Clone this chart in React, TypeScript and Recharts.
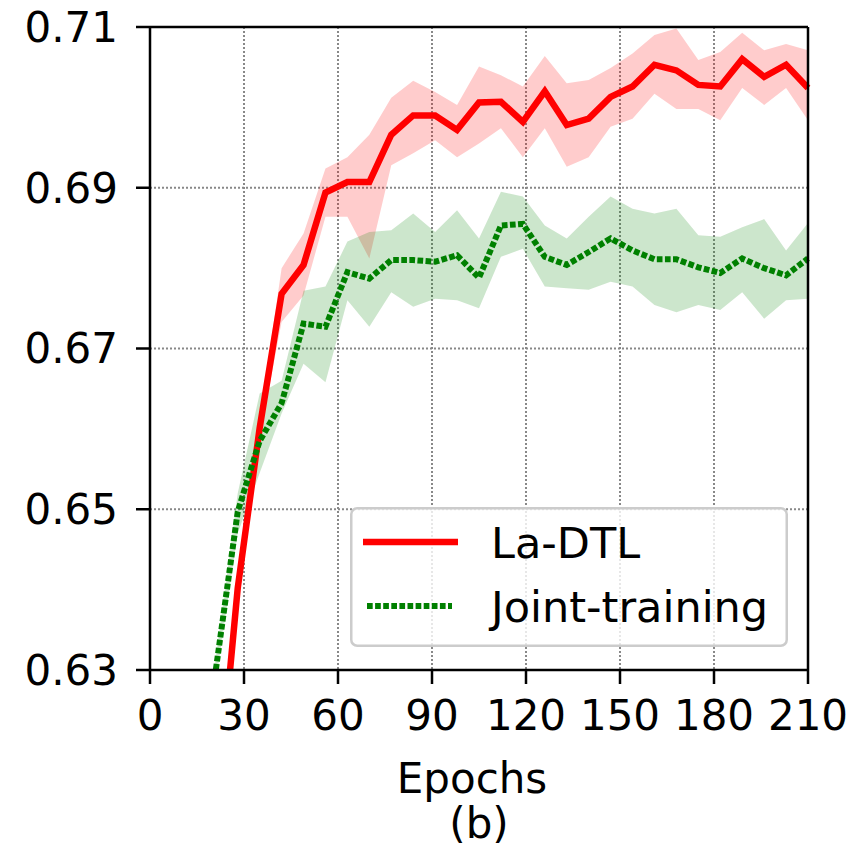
import React from 'react';
import {
  ComposedChart,
  Area,
  Line,
  XAxis,
  YAxis,
  CartesianGrid,
  ReferenceLine,
  Legend,
} from 'recharts';

const FONT = "'DejaVu Sans', sans-serif";

// epochs sampled every 7
const epochs = [
  0, 7, 14, 21, 28, 35, 42, 49, 56, 63, 70, 77, 84, 91, 98, 105,
  112, 119, 126, 133, 140, 147, 154, 161, 168, 175, 182, 189, 196, 203, 210,
];

// La-DTL mean and band
const laDtl = [
  0.55, 0.575, 0.595, 0.611, 0.6402, 0.6601, 0.6768, 0.6804, 0.6894, 0.6907, 0.6907,
  0.6966, 0.699, 0.699, 0.6972, 0.7006, 0.7007, 0.6982, 0.702, 0.6978, 0.6986,
  0.7013, 0.7026, 0.7053, 0.7046, 0.7028, 0.7026, 0.706, 0.7038, 0.7053, 0.7024,
];
const laDtlHigh = [
  0.551, 0.576, 0.596, 0.612, 0.6412, 0.6612, 0.68, 0.6843, 0.6924, 0.6938, 0.6966,
  0.7012, 0.7033, 0.7019, 0.7003, 0.7051, 0.704, 0.7026, 0.7064, 0.703, 0.7034,
  0.7049, 0.7067, 0.709, 0.7098, 0.7059, 0.7069, 0.7093, 0.7071, 0.7079, 0.7071,
];
const laDtlLow = [
  0.549, 0.574, 0.594, 0.61, 0.6392, 0.659, 0.6733, 0.6766, 0.6864, 0.6864, 0.6812,
  0.6928, 0.6943, 0.6959, 0.6938, 0.6955, 0.6974, 0.6938, 0.6974, 0.6926, 0.6938,
  0.6976, 0.6986, 0.7017, 0.6998, 0.6998, 0.6984, 0.7024, 0.7003, 0.7024, 0.6984,
];

// Joint-training mean and band
const joint = [
  0.56, 0.585, 0.606, 0.63, 0.6497, 0.6585, 0.6632, 0.6731, 0.6727, 0.6795, 0.6787,
  0.681, 0.681, 0.6808, 0.6816, 0.6788, 0.6853, 0.6855, 0.6814, 0.6804, 0.682,
  0.6837, 0.6822, 0.6811, 0.6811, 0.6801, 0.6794, 0.6812, 0.68, 0.6791, 0.6812,
];
const jointHigh = [
  0.561, 0.586, 0.607, 0.6315, 0.652, 0.6644, 0.666, 0.6772, 0.6777, 0.6833, 0.6845,
  0.6847, 0.6868, 0.6845, 0.6872, 0.6837, 0.6895, 0.6889, 0.6853, 0.6837, 0.6864,
  0.6889, 0.6874, 0.6868, 0.6874, 0.6841, 0.6839, 0.6851, 0.6861, 0.6822, 0.6856,
];
const jointLow = [
  0.559, 0.584, 0.605, 0.6285, 0.647, 0.6545, 0.6619, 0.6681, 0.6658, 0.676, 0.6727,
  0.677, 0.6752, 0.6762, 0.676, 0.675, 0.6814, 0.6824, 0.6777, 0.6775, 0.6773,
  0.6783, 0.6777, 0.6754, 0.6745, 0.6754, 0.6748, 0.677, 0.6737, 0.676, 0.6762,
];

const xTicks = [0, 30, 60, 90, 120, 150, 180, 210];
const yTicks = [0.63, 0.65, 0.67, 0.69, 0.71];

const data = epochs.map((epoch, i) => ({
  epoch,
  laDtl: laDtl[i],
  laDtlBand: [laDtlLow[i], laDtlHigh[i]],
  joint: joint[i],
  jointBand: [jointLow[i], jointHigh[i]],
}));

const tickStyle = { fontSize: 42, fill: '#000', fontFamily: FONT };
const axisStroke = { stroke: '#000', strokeWidth: 2.5 };

const renderXLabel = (props: any) => {
  const vb = props.viewBox;
  const cx = vb.x + vb.width / 2;
  return (
    <g>
      <text x={cx - 7} y={vb.y + 123} textAnchor="middle" fontSize={42} fontFamily={FONT} fill="#000">
        Epochs
      </text>
      <text x={cx} y={vb.y + 168} textAnchor="middle" fontSize={42} fontFamily={FONT} fill="#000">
        (b)
      </text>
    </g>
  );
};

const renderLegend = () => (
  <svg width={438} height={140} style={{ display: 'block' }}>
    <rect
      x={1.25}
      y={1.25}
      width={435.5}
      height={137.5}
      rx={6}
      fill="rgba(255,255,255,0.8)"
      stroke="#cccccc"
      strokeWidth={2.5}
    />
    <line x1={13} x2={108} y1={35} y2={35} stroke="#ff0000" strokeWidth={6.5} />
    <line x1={17} x2={102} y1={99} y2={99} stroke="#008000" strokeWidth={6} strokeDasharray="5.7 2.4" />
    <text x={141} y={51} fontSize={43} fontFamily={FONT} fill="#000">La-DTL</text>
    <text x={141} y={115} fontSize={43} fontFamily={FONT} fill="#000">Joint-training</text>
  </svg>
);

export default function App() {
  return (
    <div style={{ position: 'absolute', left: 0, top: 0, background: '#fff' }}>
      <ComposedChart
        width={856}
        height={848}
        data={data}
        margin={{ top: 27, right: 48, bottom: 0, left: 0 }}
      >
        <CartesianGrid stroke="#888" strokeWidth={2} strokeDasharray="2 2" />
        <XAxis
          dataKey="epoch"
          type="number"
          domain={[0, 210]}
          ticks={xTicks}
          height={178}
          tick={tickStyle}
          tickSize={14}
          tickMargin={16}
          axisLine={axisStroke}
          tickLine={axisStroke}
          label={{ content: renderXLabel }}
        />
        <YAxis
          type="number"
          domain={[0.63, 0.71]}
          ticks={yTicks}
          allowDataOverflow
          width={150}
          tick={tickStyle}
          tickSize={14}
          tickMargin={18}
          tickFormatter={(v: number) => v.toFixed(2)}
          axisLine={axisStroke}
          tickLine={axisStroke}
        />
        <Area
          type="linear"
          dataKey="laDtlBand"
          stroke="none"
          fill="#ff0000"
          fillOpacity={0.2}
          isAnimationActive={false}
        />
        <Area
          type="linear"
          dataKey="jointBand"
          stroke="none"
          fill="#008000"
          fillOpacity={0.2}
          isAnimationActive={false}
        />
        <Line
          type="linear"
          dataKey="laDtl"
          stroke="#ff0000"
          strokeWidth={6.5}
          dot={false}
          isAnimationActive={false}
        />
        <Line
          type="linear"
          dataKey="joint"
          stroke="#008000"
          strokeWidth={6}
          strokeDasharray="5.7 2.4"
          dot={false}
          isAnimationActive={false}
        />
        <ReferenceLine y={0.71} stroke="#000" strokeWidth={2.5} />
        <ReferenceLine x={210} stroke="#000" strokeWidth={2.5} />
        <Legend
          layout="vertical"
          align="center"
          verticalAlign="middle"
          content={renderLegend}
          wrapperStyle={{ left: 350, top: 507, width: 438, height: 140 }}
        />
      </ComposedChart>
    </div>
  );
}
